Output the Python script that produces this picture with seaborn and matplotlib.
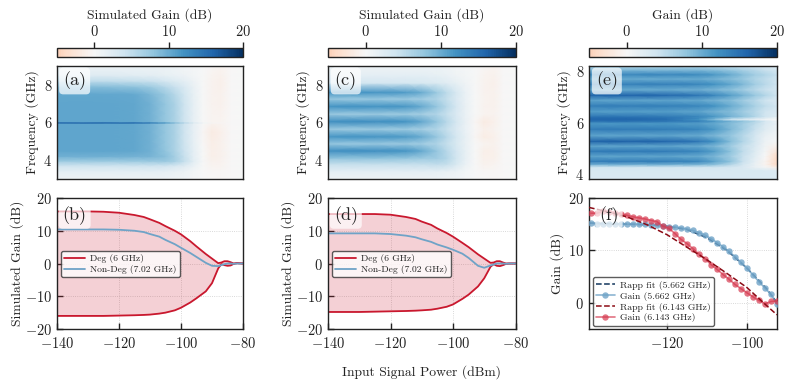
import numpy as np
import matplotlib
matplotlib.use("Agg")
import matplotlib.pyplot as plt
from matplotlib.cm import ScalarMappable
from matplotlib.colors import Normalize
import seaborn as sns

# ---- heatmap grids ----
power_ac = [-140, -125, -115, -110, -105, -102, -99, -96, -93, -90, -87, -84, -80]
freq_a = [3.0, 3.4, 3.7, 3.95, 4.2, 4.5, 5.0, 5.5, 5.955, 5.985, 6.0, 6.015, 6.045, 6.5, 7.0, 7.5, 7.9, 8.2, 8.5, 9.0]
gain_a = [
    [1.0, 1.0, 1.0, 1.0, 1.0, 0.9, 0.7, 0.4, 0.1, -0.1, -0.2, -0.1, 0.0],
    [2.0, 2.0, 2.0, 1.9, 1.8, 1.5, 1.1, 0.6, 0.1, -0.3, -0.3, -0.1, 0.0],
    [4.2, 4.2, 4.2, 4.2, 4.0, 3.4, 2.5, 1.3, 0.1, -0.6, -0.5, -0.1, 0.0],
    [7.2, 7.2, 7.2, 7.4, 7.4, 6.6, 4.8, 2.2, 0.2, -0.9, -0.7, -0.1, 0.0],
    [9.6, 9.6, 9.5, 9.3, 8.4, 6.8, 4.6, 2.0, 0.1, -1.1, -0.8, -0.1, 0.0],
    [10.6, 10.6, 10.4, 9.6, 7.9, 6.4, 4.3, 1.9, 0.0, -1.2, -0.8, -0.1, 0.0],
    [10.6, 10.6, 10.4, 9.6, 7.8, 6.3, 4.2, 1.8, -0.1, -1.4, -0.8, -0.1, 0.0],
    [10.6, 10.6, 10.4, 9.6, 7.8, 6.3, 4.2, 1.8, -0.2, -1.6, -1.0, -0.1, 0.0],
    [10.6, 10.6, 10.4, 9.6, 7.8, 6.3, 4.2, 1.8, 0.0, -0.8, -0.6, -0.1, 0.0],
    [16.0, 16.0, 15.5, 14.0, 11.0, 8.5, 5.5, 2.8, 0.6, -0.2, -0.3, -0.1, 0.0],
    [16.0, 16.0, 15.5, 14.0, 11.0, 8.5, 5.5, 2.8, 0.6, -0.2, -0.3, -0.1, 0.0],
    [16.0, 16.0, 15.5, 14.0, 11.0, 8.5, 5.5, 2.8, 0.6, -0.2, -0.3, -0.1, 0.0],
    [10.6, 10.6, 10.4, 9.6, 7.8, 6.3, 4.2, 1.8, 0.0, -0.6, -0.5, -0.1, 0.0],
    [10.6, 10.6, 10.4, 9.6, 7.8, 6.3, 4.2, 1.8, 0.1, -0.6, -0.7, -0.1, 0.0],
    [10.6, 10.6, 10.4, 9.6, 7.8, 6.3, 4.2, 1.8, 0.1, -0.7, -0.9, -0.1, 0.0],
    [10.4, 10.4, 10.2, 9.2, 7.2, 5.7, 3.8, 1.7, 0.1, -0.7, -0.9, -0.1, 0.0],
    [8.5, 8.5, 8.0, 7.2, 5.6, 4.4, 3.0, 1.5, 0.1, -0.7, -1.0, -0.1, 0.0],
    [5.0, 5.0, 4.8, 4.4, 3.5, 2.7, 1.9, 1.0, 0.1, -0.7, -1.0, -0.1, 0.0],
    [2.5, 2.5, 2.3, 2.1, 1.7, 1.4, 1.0, 0.6, 0.1, -0.6, -0.9, -0.1, 0.0],
    [1.0, 1.0, 1.0, 1.0, 1.0, 0.8, 0.6, 0.4, 0.1, -0.3, -0.5, -0.1, 0.0],
]
freq_c = [3.0, 3.4, 3.8, 4.1, 4.5, 4.87, 5.25, 5.65, 6.05, 6.45, 6.85, 7.25, 7.6, 8.1, 8.5, 9.0]
gain_c = [
    [1.0, 1.0, 1.0, 1.0, 1.0, 0.9, 0.7, 0.4, 0.1, -0.1, -0.2, -0.1, 0.0],
    [2.0, 2.0, 2.0, 1.9, 1.8, 1.5, 1.1, 0.6, 0.1, -0.3, -0.3, -0.1, 0.0],
    [4.8, 4.8, 4.8, 4.8, 5.0, 4.8, 3.2, 1.4, 0.1, -0.8, -0.6, -0.1, 0.0],
    [8.0, 8.0, 7.8, 7.2, 7.0, 5.8, 3.8, 1.7, 0.1, -1.0, -1.0, -0.1, 0.0],
    [12.2, 12.2, 11.8, 10.2, 7.6, 5.6, 3.6, 1.7, 0.0, -1.2, -1.0, -0.1, 0.0],
    [7.6, 7.6, 7.4, 6.9, 6.0, 4.8, 3.2, 1.5, 0.0, -0.6, -0.8, -0.1, 0.0],
    [11.8, 11.8, 11.4, 10.0, 7.5, 5.5, 3.5, 1.6, -0.2, -1.5, -1.0, -0.1, 0.0],
    [7.4, 7.4, 7.2, 6.8, 5.8, 4.6, 3.0, 1.3, -0.1, -1.0, -0.7, -0.1, 0.0],
    [12.4, 12.4, 12.0, 10.4, 7.7, 5.6, 3.5, 1.5, -0.3, -1.6, -1.0, -0.1, 0.0],
    [7.4, 7.4, 7.2, 6.8, 5.8, 4.6, 3.0, 1.3, 0.1, -0.6, -0.7, -0.1, 0.0],
    [12.0, 12.0, 11.6, 10.2, 7.7, 5.5, 3.5, 1.5, 0.1, -0.7, -0.9, -0.1, 0.0],
    [7.6, 7.6, 7.4, 6.9, 6.0, 4.8, 3.1, 1.4, 0.1, -0.6, -0.8, -0.1, 0.0],
    [11.8, 11.8, 11.4, 10.0, 7.2, 5.2, 3.3, 1.4, 0.1, -0.7, -0.9, -0.1, 0.0],
    [3.6, 3.6, 3.5, 3.3, 2.9, 2.4, 1.7, 0.9, 0.1, -0.7, -1.0, -0.1, 0.0],
    [2.0, 2.0, 2.0, 1.9, 1.7, 1.3, 0.9, 0.5, 0.1, -0.6, -0.9, -0.1, 0.0],
    [1.0, 1.0, 1.0, 1.0, 1.0, 0.8, 0.6, 0.4, 0.1, -0.3, -0.5, -0.1, 0.0],
]
power_e = [-139.5, -130, -120, -112, -108, -104, -101, -98, -95.5, -92.5]
freq_e = [3.82, 4.15, 4.28, 4.38, 4.5, 4.7, 4.9, 5.1, 5.28, 5.5, 5.75, 5.97, 6.07, 6.13, 6.19, 6.25, 6.43, 6.66, 6.87, 7.07, 7.28, 7.5, 7.7, 7.87, 8.05, 8.2]
gain_e = [
    [3.0, 3.0, 3.0, 3.0, 3.0, 3.0, 3.0, 3.0, 3.0, 3.0],
    [3.2, 3.2, 3.2, 3.2, 3.2, 3.2, 3.2, 3.2, 3.0, 2.5],
    [4.0, 4.0, 4.0, 4.0, 4.0, 3.5, 3.0, 1.5, 0.5, -1.5],
    [9.5, 9.5, 9.5, 9.0, 8.0, 5.5, 3.5, 1.5, -0.5, -4.0],
    [14.0, 14.0, 13.8, 13.0, 10.5, 8.0, 4.5, 1.8, -0.5, -4.0],
    [10.5, 10.5, 10.5, 10.0, 9.0, 7.0, 4.5, 2.2, 0.0, -4.0],
    [14.2, 14.2, 14.0, 13.0, 11.0, 8.0, 5.0, 2.8, 0.5, -2.5],
    [10.5, 10.5, 10.5, 10.0, 9.0, 7.0, 4.8, 3.0, 0.8, -1.0],
    [16.2, 16.2, 15.8, 14.5, 12.0, 8.5, 6.0, 3.5, 1.2, 0.0],
    [10.5, 10.5, 10.5, 10.0, 9.0, 7.5, 5.5, 3.5, 1.5, 0.5],
    [14.0, 14.0, 13.8, 13.2, 11.5, 9.0, 7.0, 4.5, 2.5, 1.0],
    [11.5, 11.5, 11.5, 11.0, 10.0, 8.5, 7.0, 5.0, 3.0, 1.5],
    [15.0, 15.0, 14.5, 13.5, 11.5, 9.5, 8.0, 6.0, 3.5, 1.0],
    [15.8, 15.8, 15.0, 12.0, 8.5, 4.0, 2.5, 1.5, 0.5, 0.0],
    [15.5, 15.5, 14.8, 12.5, 10.0, 7.0, 5.5, 4.0, 2.5, 0.5],
    [14.5, 14.5, 14.0, 13.0, 11.5, 9.5, 8.0, 6.0, 4.0, 2.5],
    [11.0, 11.0, 11.0, 10.5, 9.5, 8.5, 7.0, 5.5, 4.0, 3.0],
    [13.8, 13.8, 13.6, 13.0, 12.0, 10.0, 8.5, 6.5, 5.0, 3.5],
    [10.5, 10.5, 10.5, 10.2, 9.5, 8.5, 7.0, 5.5, 4.0, 3.0],
    [16.0, 16.0, 15.5, 14.5, 13.0, 11.0, 9.5, 7.5, 6.0, 4.0],
    [10.0, 10.0, 10.0, 9.8, 9.2, 8.2, 7.0, 5.5, 4.5, 3.5],
    [13.5, 13.5, 13.5, 13.0, 12.0, 10.5, 9.0, 7.0, 5.5, 4.0],
    [10.0, 10.0, 10.0, 10.0, 9.5, 8.5, 7.5, 6.0, 5.0, 4.0],
    [13.0, 13.0, 13.0, 12.5, 11.5, 10.0, 8.5, 7.0, 6.0, 4.5],
    [9.0, 9.0, 9.0, 9.0, 8.5, 7.5, 6.5, 5.5, 4.5, 3.5],
    [6.0, 6.0, 6.0, 6.0, 5.5, 5.0, 4.5, 4.0, 3.5, 3.0],
]

# ---- line panels b, d ----
power_line = [-140, -130, -125, -120, -115, -112, -110, -107, -105, -102, -100, -97, -95, -92, -90, -88, -87, -86, -85, -84, -83, -82, -80]
b_upper = [15.9, 15.9, 15.8, 15.5, 14.8, 14.2, 13.5, 12.4, 11.4, 10.0, 8.9, 6.8, 5.2, 2.9, 1.5, 0.1, 0.3, 0.7, 0.7, 0.4, 0.0, 0.1, 0.0]
b_lower = [-16.0, -16.0, -16.0, -15.9, -15.8, -15.7, -15.6, -15.3, -15.0, -14.3, -13.5, -11.9, -10.6, -8.5, -6.0, -1.5, -0.2, -0.5, -0.7, -0.6, -0.1, 0.1, 0.0]
b_nondeg = [10.4, 10.4, 10.4, 10.3, 10.0, 9.6, 9.0, 8.2, 7.2, 5.9, 4.8, 3.2, 2.0, 0.2, -0.7, -0.8, -0.5, -0.2, 0.0, 0.0, -0.1, 0.0, 0.0]
d_upper = [15.1, 15.1, 15.1, 14.9, 14.2, 13.6, 12.8, 11.8, 10.7, 9.3, 8.2, 6.3, 5.0, 2.8, 1.5, 0.2, 0.3, 0.7, 0.7, 0.3, 0.0, 0.0, 0.0]
d_lower = [-14.8, -14.8, -14.7, -14.6, -14.5, -14.4, -14.3, -14.1, -13.8, -13.2, -12.5, -10.8, -9.5, -7.0, -4.5, -1.0, -0.2, -0.7, -0.8, -0.5, -0.1, 0.0, 0.0]
d_nondeg = [9.2, 9.2, 9.2, 9.0, 8.5, 8.0, 7.4, 6.6, 5.8, 4.9, 4.2, 3.0, 1.7, -0.7, -1.3, -0.6, -0.3, 0.0, 0.0, 0.0, -0.1, 0.0, 0.0]

# ---- panel f ----
power_f = [-139.0, -137.5, -136.0, -134.5, -133.0, -131.5, -130.0, -128.5, -127.0, -125.5, -124.0, -122.5,
           -121.0, -119.5, -118.0, -116.5, -115.0, -113.5, -112.0, -110.5, -109.0, -107.5, -106.0, -104.5,
           -103.0, -101.5, -100.0, -98.5, -97.0, -95.5, -94.0, -92.5]
gain_5662 = [15.2, 15.1, 15.0, 14.95, 15.1, 15.0, 15.0, 15.0, 15.0, 14.95, 14.9, 14.8, 14.65, 14.5, 14.45, 14.3,
             14.05, 13.8, 13.4, 12.9, 12.25, 11.5, 10.7, 9.8, 8.8, 7.7, 6.6, 5.3, 4.0, 2.8, 1.6, -0.2]
gain_6143 = [17.1, 17.1, 17.5, 17.4, 17.2, 17.0, 16.7, 16.4, 16.2, 16.0, 15.7, 15.5, 14.6, 14.2, 13.2, 12.1,
             11.3, 10.3, 9.3, 8.4, 7.3, 6.4, 5.4, 4.5, 3.5, 2.7, 1.9, 1.15, 0.45, -0.2, 0.25, 0.35]
power_fit = [-139.5, -135, -130, -125, -120, -115, -110, -105, -100, -95, -92.5]
fit_5662 = [15.2, 15.1, 15.0, 14.9, 14.6, 14.0, 12.4, 10.0, 6.6, 2.6, 0.0]
fit_6143 = [18.2, 17.4, 16.4, 14.9, 13.0, 10.6, 8.2, 5.6, 2.9, -0.6, -2.3]

# ---- labels ----
panel_tags = ["(a)", "(b)", "(c)", "(d)", "(e)", "(f)"]
cbar_titles = ["Simulated Gain (dB)", "Simulated Gain (dB)", "Gain (dB)"]
cbar_ticks = [0, 10, 20]

W, H = 793, 390
sns.set_theme(style="ticks", rc={
    "font.family": "cmr10", "mathtext.fontset": "cm", "axes.formatter.use_mathtext": True,
    "axes.unicode_minus": False, "font.size": 9.8, "axes.labelsize": 9.8,
    "xtick.labelsize": 10.4, "ytick.labelsize": 10.4, "axes.linewidth": 1.0,
    "xtick.direction": "in", "ytick.direction": "in", "xtick.major.pad": 4.8,
    "xtick.major.size": 4.2, "ytick.major.size": 4.2, "xtick.major.width": 1.0, "ytick.major.width": 1.0,
    "axes.edgecolor": "#222222", "text.color": "#222222", "axes.labelcolor": "#222222",
    "xtick.color": "#222222", "ytick.color": "#222222",
})
fig = plt.figure(figsize=(W / 100, H / 100), dpi=100)


def place(x0, y0, x1, y1):
    return fig.add_axes([x0 / W, 1 - y1 / H, (x1 - x0) / W, (y1 - y0) / H])


cols = [(57, 243), (328, 515.5), (589, 777)]
norm = Normalize(-20, 20)
cmap = "RdBu"
RED = "#c9182e"
BLUE = "#6fa3c7"
DARKRED = "#8b0a14"
NAVY = "#12365c"


def tag(ax, text, x):
    ax.text(x, 0.867, text, transform=ax.transAxes, fontsize=13, ha="center", va="center", zorder=6,
            bbox=dict(boxstyle="round,pad=0.22", fc="white", ec="none", alpha=0.7))


def deco_line(ax):
    ax.grid(True, ls=":", lw=0.6, color="#cccccc")
    ax.set_axisbelow(True)


heat = [(power_ac, freq_a, gain_a, (-140, -80), (3, 9), [4, 6, 8], [-120, -100]),
        (power_ac, freq_c, gain_c, (-140, -80), (3, 9), [4, 6, 8], [-120, -100]),
        (power_e, freq_e, gain_e, (-139.5, -92.5), (3.82, 8.2), [4, 6, 8], [-120, -100])]

for i, ((x0, x1), spec) in enumerate(zip(cols, heat)):
    p, f, g, xl, yl, yt, xt = spec
    cax = place(x0, 48, x1, 57)
    fig.colorbar(ScalarMappable(norm=norm, cmap=cmap), cax=cax, orientation="horizontal",
                 boundaries=np.linspace(-5, 20, 257))
    cax.xaxis.set_ticks_position("top")
    cax.xaxis.set_label_position("top")
    cax.set_xticks(cbar_ticks)
    cax.tick_params(axis="x", direction="out", length=4.2, width=1, pad=2)
    cax.minorticks_off()
    cax.set_xlabel(cbar_titles[i], labelpad=4)

    ax = place(x0, 66, x1, 179)
    ax.pcolormesh(p, f, np.array(g), cmap=cmap, norm=norm, shading="gouraud", rasterized=True)
    ax.set_xlim(*xl)
    ax.set_ylim(*yl)
    ax.set_xticks(xt)
    ax.set_yticks(yt)
    ax.tick_params(labelbottom=False)
    ax.set_ylabel("Frequency (GHz)", labelpad=3)
    tag(ax, panel_tags[2 * i], 0.095)
    sns.despine(ax=ax, top=False, right=False)

for i, (up, lo, nd) in enumerate([(b_upper, b_lower, b_nondeg), (d_upper, d_lower, d_nondeg)]):
    x0, x1 = cols[i]
    ax = place(x0, 198, x1, 329)
    deco_line(ax)
    ax.fill_between(power_line, lo, up, color=RED, alpha=0.2, lw=0)
    sns.lineplot(x=power_line, y=up, ax=ax, color=RED, lw=1.3, label="Deg (6 GHz)", errorbar=None)
    sns.lineplot(x=power_line, y=lo, ax=ax, color=RED, lw=1.3, errorbar=None)
    sns.lineplot(x=power_line, y=nd, ax=ax, color=BLUE, lw=1.3, label="Non-Deg (7.02 GHz)", errorbar=None)
    ax.set_xlim(-140, -80)
    ax.set_ylim(-20, 20)
    ax.set_xticks([-140, -120, -100, -80])
    ax.set_yticks([-20, -10, 0, 10, 20])
    ax.set_ylabel("Simulated Gain (dB)", labelpad=1)
    leg = ax.legend(loc="center left", bbox_to_anchor=(0.022, 0.496), borderaxespad=0, fontsize=6.9, frameon=True,
                    framealpha=0.8, edgecolor="#333333", fancybox=True, borderpad=0.35, labelspacing=0.2,
                    handlelength=2.1, handletextpad=0.55)
    leg.get_frame().set_linewidth(1.0)
    tag(ax, panel_tags[2 * i + 1], 0.095)
    sns.despine(ax=ax, top=False, right=False)

x0, x1 = cols[2]
ax = place(x0, 198, x1, 329)
deco_line(ax)
sns.lineplot(x=power_fit, y=fit_5662, ax=ax, color=NAVY, lw=1.1, ls="--", label="Rapp fit (5.662 GHz)", errorbar=None, zorder=2)
ax.plot(power_f, gain_5662, color=BLUE, lw=1.2, marker="o", ms=4.6, alpha=0.8, mew=0, label="Gain (5.662 GHz)", zorder=3)
sns.lineplot(x=power_fit, y=fit_6143, ax=ax, color=DARKRED, lw=1.1, ls="--", label="Rapp fit (6.143 GHz)", errorbar=None, zorder=4)
ax.plot(power_f, gain_6143, color="#d6394f", lw=1.2, marker="o", ms=4.6, alpha=0.7, mew=0, label="Gain (6.143 GHz)", zorder=3)
ax.set_xlim(-139.5, -92.5)
ax.set_ylim(-5, 20)
ax.set_xticks([-120, -100])
ax.set_yticks([0, 10, 20])
ax.set_ylabel("Gain (dB)", labelpad=3)
leg = ax.legend(loc="lower left", bbox_to_anchor=(0.02, 0.024), borderaxespad=0, fontsize=7.0, frameon=True,
                framealpha=0.8, edgecolor="#333333", fancybox=True, borderpad=0.35, labelspacing=0.2,
                handlelength=1.9, handletextpad=0.55)
leg.get_frame().set_linewidth(1.0)
tag(ax, panel_tags[5], 0.106)
sns.despine(ax=ax, top=False, right=False)

fig.text(421.5 / W, 1 - 372 / H, "Input Signal Power (dBm)", ha="center", va="center", fontsize=9.8)
fig.savefig("out.png", dpi=100)
